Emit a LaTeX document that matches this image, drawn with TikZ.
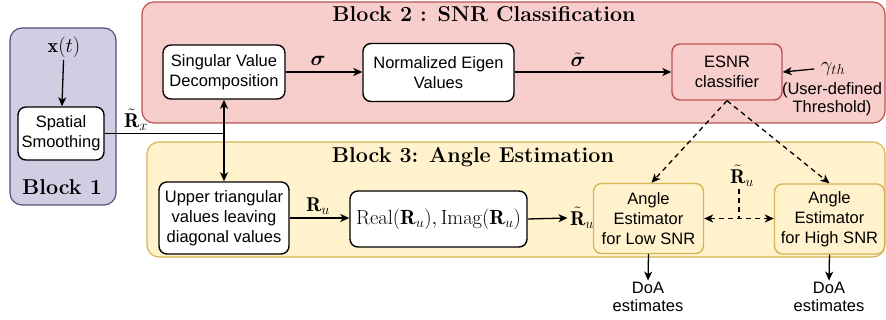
\documentclass[tikz,border=0pt]{standalone}
\usepackage{amsmath}
\usepackage{fontspec}
\setsansfont{Liberation Sans}
\usetikzlibrary{arrows.meta}

\definecolor{purplefill}{HTML}{D0CEE2}
\definecolor{purpleline}{HTML}{56517E}
\definecolor{redfill}{HTML}{F8CECC}
\definecolor{redline}{HTML}{B85450}
\definecolor{yellowfill}{HTML}{FFF2CC}
\definecolor{yellowline}{HTML}{D6B656}

\begin{document}
\begin{tikzpicture}[x=1pt, y=-1pt, >={Stealth[length=9pt, width=8pt, inset=2.5pt]}, line width=1.3pt]
        \tikzstyle{group} = [rectangle, rounded corners=12pt, line width=1.2pt, inner sep=0pt]
        \tikzstyle{proc} = [rectangle, rounded corners=8pt, draw, line width=1.4pt, fill=white, align=center, inner sep=0pt, font=\sffamily\fontsize{16.5}{20}\selectfont]
        \tikzstyle{title} = [font=\fontsize{21.5}{25}\selectfont\bfseries]
        \tikzstyle{lbl} = [font=\fontsize{20}{22}\selectfont, inner sep=2pt]
        \tikzstyle{note} = [align=center, inner sep=1pt, font=\sffamily\fontsize{16.5}{18}\selectfont]
        \tikzstyle{dashline} = [dash pattern=on 5pt off 4pt]

        \useasboundingbox (0,0) rectangle (886,320);

        % blocks
        \node[group, draw=purpleline, fill=purplefill, minimum width=106pt, minimum height=177pt] (block1) at (63,116.5) {};
        \node[group, draw=redline, fill=redfill, minimum width=743pt, minimum height=121pt] (block2) at (513.5,62.5) {};
        \node[group, draw=yellowline, fill=yellowfill, minimum width=738pt, minimum height=115pt] (block3) at (516,199.5) {};

        \node[title] (t1) at (62,187) {Block 1};
        \node[title] (t2) at (484,14) {Block 2 : SNR Classification};
        \node[title] (t3) at (473,157) {Block 3: Angle Estimation};

        % processing steps
        \node[proc, minimum width=86pt, minimum height=53pt] (smooth) at (61,133.5) {Spatial\\Smoothing};
        \node[proc, minimum width=122pt, minimum height=54pt] (svd) at (224,72) {Singular Value\\Decomposition};
        \node[proc, minimum width=151pt, minimum height=58pt] (eigen) at (438.5,72.5) {Normalized Eigen\\Values};
        \node[proc, draw=redline, fill=redfill, minimum width=110pt, minimum height=56pt] (esnr) at (727,72) {ESNR\\classifier};
        \node[proc, minimum width=130pt, minimum height=72pt] (upper) at (224,218) {Upper triangular\\values leaving\\diagonal values};
        \node[proc, minimum width=177pt, minimum height=56pt, font=\fontsize{20.5}{22}\selectfont] (realimag) at (438.5,219) {$\mathrm{Real}(\mathbf{R}_u),\mathrm{Imag}(\mathbf{R}_u)$};
        \node[proc, draw=yellowline, fill=yellowfill, minimum width=110pt, minimum height=70pt] (low) at (648.5,218.5) {Angle\\Estimator\\for Low SNR};
        \node[proc, draw=yellowline, fill=yellowfill, minimum width=110pt, minimum height=70pt] (high) at (829.5,219) {Angle\\Estimator\\for High SNR};

        % signals and labels
        \node[lbl] (xt) at (64,47) {$\mathbf{x}(t)$};
        \node[lbl] (rx) at (136,120) {$\tilde{\mathbf{R}}_x$};
        \node[lbl] (sig) at (318,61) {$\boldsymbol{\sigma}$};
        \node[lbl] (sigt) at (578,60) {$\tilde{\boldsymbol{\sigma}}$};
        \node[lbl, inner sep=6pt] (gam) at (833,69) {$\gamma_{th}$};
        \node[note] (thr) at (832,99) {(User-defined\\Threshold)};
        \node[lbl] (ru) at (318,206) {$\mathbf{R}_u$};
        \node[lbl] (rut) at (582,218) {$\tilde{\mathbf{R}}_u$};
        \node[lbl] (rus) at (742,176) {$\tilde{\mathbf{R}}_u$};
        \node[note] (doalow) at (648,297) {DoA\\estimates};
        \node[note] (doahigh) at (829,297) {DoA\\estimates};

        \coordinate (junc) at (svd.south |- smooth.east);
        \coordinate (split) at (739,0 |- low.east);

        % connectors
        \draw[->] (xt) -- (smooth);
        \draw (smooth.east) -- (junc);
        \draw[<->] (svd.south) -- (svd.south |- upper.north);
        \draw[->] (svd.east) -- (svd.east -| eigen.west);
        \draw[->] (eigen.east |- esnr.west) -- (esnr.west);
        \draw[->] (gam.west) -- (esnr.east);
        \draw[->] (upper.east) -- (upper.east -| realimag.west);
        \draw[->] (realimag.east) -- (rut.west);
        \draw[->, dashline] (esnr.south) -- ([xshift=3pt]low.north);
        \draw[->, dashline] (esnr.south) -- (high.north);
        \draw[dashline] (split |- rus.south) -- (split);
        \draw[<->, dashline] (low.east) -- (low.east -| high.west);
        \draw[->] (low.south) -- (doalow.north);
        \draw[->] (high.south) -- (doahigh.north);
    \end{tikzpicture}
\end{document}
